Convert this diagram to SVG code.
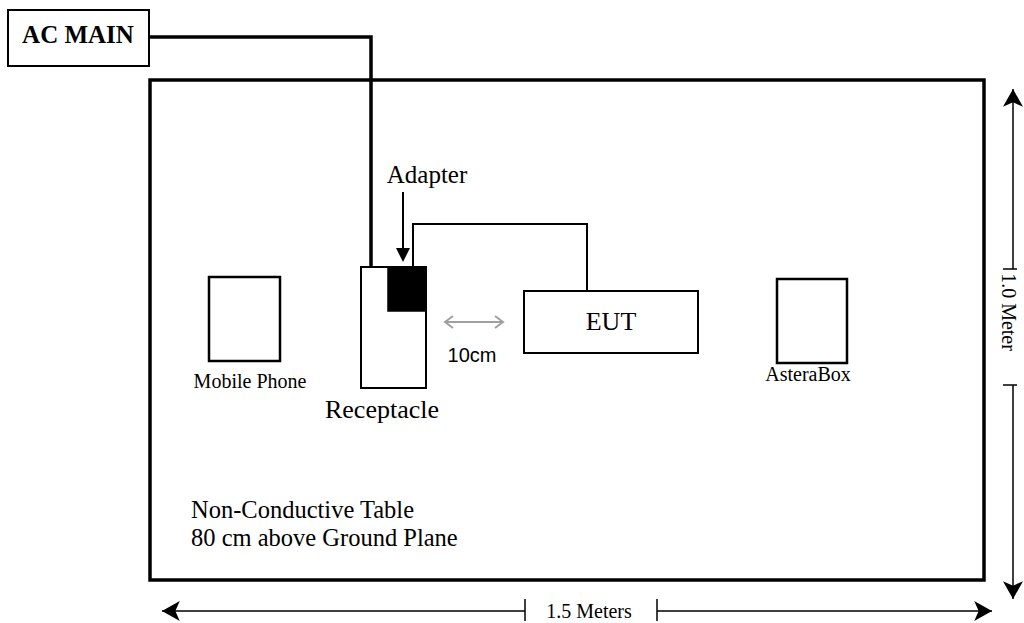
<svg xmlns="http://www.w3.org/2000/svg" width="1024" height="623" viewBox="0 0 1024 623">
<style>
.serif{font-family:"Liberation Serif","Times New Roman",serif;fill:#000}
.box{fill:#fff;stroke:#000;stroke-width:2}
.thick{fill:none;stroke:#000;stroke-width:3.5}
.thin{fill:none;stroke:#000;stroke-width:2}
.dim{fill:none;stroke:#000;stroke-width:1.5}
.gray{fill:none;stroke:#a0a0a0;stroke-width:2}
</style>
<defs>
<marker id="stealth" markerUnits="userSpaceOnUse" markerWidth="20" markerHeight="20" viewBox="0 0 17 18" refX="16" refY="9" orient="auto-start-reverse">
<path d="M0,0 L16,9 L0,18 L4,9 Z" fill="#000"/>
</marker>
</defs>
<rect width="1024" height="623" fill="#fff"/>
<g id="table">
<rect x="150" y="80" width="834" height="500" fill="#fff" stroke="#000" stroke-width="3.5"/>
<text class="serif" x="191" y="518" font-size="24.5">Non-Conductive Table</text>
<text class="serif" x="191" y="546" font-size="24.5">80 cm above Ground Plane</text>
</g>
<g id="ac-main">
<rect class="box" x="8" y="10" width="141" height="56"/>
<text class="serif" x="78" y="43" font-size="25" font-weight="bold" text-anchor="middle">AC MAIN</text>
</g>
<g id="connectors">
<polyline class="thick" points="149,37 371,37 371,267"/>
<polyline class="thin" points="413,267 413,224 587,224 587,291"/>
<line x1="403" y1="192" x2="403" y2="250" stroke="#000" stroke-width="2"/>
<polygon points="396,248 410,248 403,262" fill="#000"/>
<line class="gray" x1="445" y1="322" x2="503" y2="322"/>
<polyline class="gray" points="453,316 445,322 453,328"/>
<polyline class="gray" points="495,316 503,322 495,328"/>
</g>
<g id="receptacle">
<rect class="box" x="361" y="267" width="65" height="121"/>
<rect x="388" y="267" width="38" height="44" fill="#000" stroke="#000" stroke-width="1.5"/>
<text class="serif" x="382" y="418" font-size="26" text-anchor="middle">Receptacle</text>
</g>
<g id="adapter-label">
<text class="serif" x="427" y="183" font-size="25" text-anchor="middle">Adapter</text>
</g>
<g id="distance-label">
<text x="472" y="362" font-size="20" font-family="Liberation Sans, Arial, sans-serif" text-anchor="middle" fill="#000">10cm</text>
</g>
<g id="eut">
<rect class="box" x="524" y="291" width="174" height="62"/>
<text class="serif" x="611" y="330" font-size="26" text-anchor="middle">EUT</text>
</g>
<g id="mobile-phone">
<rect x="209" y="277" width="71" height="84" fill="#fff" stroke="#000" stroke-width="2.5"/>
<text class="serif" x="250" y="388" font-size="20" text-anchor="middle">Mobile Phone</text>
</g>
<g id="asterabox">
<rect x="777" y="279" width="70" height="84" fill="#fff" stroke="#000" stroke-width="2.5"/>
<text class="serif" x="808" y="381" font-size="20" text-anchor="middle">AsteraBox</text>
</g>
<g id="dimensions">
<line class="dim" x1="162" y1="611" x2="525" y2="611" marker-start="url(#stealth)"/>
<line class="dim" x1="525" y1="599" x2="525" y2="621"/>
<line class="dim" x1="657" y1="611" x2="992" y2="611" marker-end="url(#stealth)"/>
<line class="dim" x1="657" y1="599" x2="657" y2="621"/>
<text class="serif" x="589" y="618" font-size="20" text-anchor="middle">1.5 Meters</text>
<line class="dim" x1="1013" y1="89" x2="1013" y2="269" marker-start="url(#stealth)"/>
<line class="dim" x1="1003" y1="269" x2="1017" y2="269"/>
<line class="dim" x1="1013" y1="385" x2="1013" y2="599" marker-end="url(#stealth)"/>
<line class="dim" x1="1003" y1="385" x2="1017" y2="385"/>
<text class="serif" transform="translate(1002,312) rotate(90)" x="0" y="0" font-size="20" text-anchor="middle">1.0 Meter</text>
</g>
</svg>
